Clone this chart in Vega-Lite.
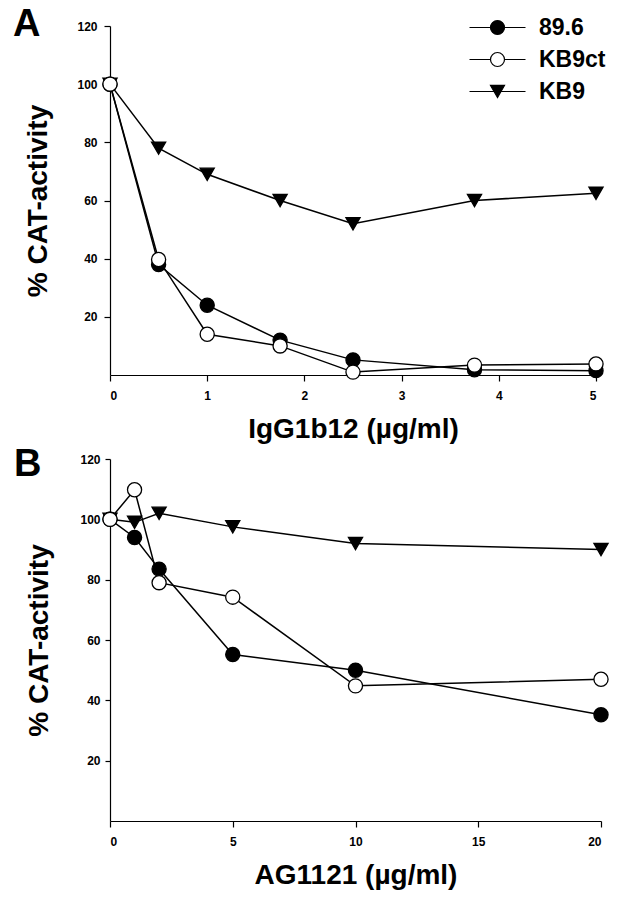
{
  "$schema": "https://vega.github.io/schema/vega-lite/v6.json",
  "background": "white",
  "padding": {"left": 12, "top": 6, "right": 5, "bottom": 5},
  "config": {
    "view": {"stroke": null},
    "font": "Liberation Sans",
    "axis": {
      "grid": false,
      "domainColor": "black",
      "tickColor": "black",
      "labelColor": "black",
      "titleColor": "black",
      "labelFont": "Liberation Sans",
      "labelFontWeight": "bold",
      "labelFontSize": 12,
      "titleFont": "Liberation Sans",
      "titleFontWeight": "bold",
      "titleFontSize": 28,
      "domainWidth": 1.2,
      "tickWidth": 1.2,
      "tickSize": 6
    },
    "title": {"fontSize": 38, "fontWeight": "bold", "anchor": "start", "frame": "bounds", "color": "black", "font": "Liberation Sans"}
  },
  "datasets": {
    "a": [
      {"strain": "89.6", "conc": 0, "cat": 100},
      {"strain": "89.6", "conc": 0.5, "cat": 38},
      {"strain": "89.6", "conc": 1, "cat": 24},
      {"strain": "89.6", "conc": 1.75, "cat": 12},
      {"strain": "89.6", "conc": 2.5, "cat": 5.2},
      {"strain": "89.6", "conc": 3.75, "cat": 1.8},
      {"strain": "89.6", "conc": 5, "cat": 1.5},
      {"strain": "KB9", "conc": 0, "cat": 100},
      {"strain": "KB9", "conc": 0.5, "cat": 78},
      {"strain": "KB9", "conc": 1, "cat": 69},
      {"strain": "KB9", "conc": 1.75, "cat": 60},
      {"strain": "KB9", "conc": 2.5, "cat": 52},
      {"strain": "KB9", "conc": 3.75, "cat": 60},
      {"strain": "KB9", "conc": 5, "cat": 62.5},
      {"strain": "KB9ct", "conc": 0, "cat": 100},
      {"strain": "KB9ct", "conc": 0.5, "cat": 39.7},
      {"strain": "KB9ct", "conc": 1, "cat": 14},
      {"strain": "KB9ct", "conc": 1.75, "cat": 10},
      {"strain": "KB9ct", "conc": 2.5, "cat": 1},
      {"strain": "KB9ct", "conc": 3.75, "cat": 3.4},
      {"strain": "KB9ct", "conc": 5, "cat": 3.8}
    ],
    "b": [
      {"strain": "89.6", "conc": 0, "cat": 100},
      {"strain": "89.6", "conc": 1, "cat": 94},
      {"strain": "89.6", "conc": 2, "cat": 83.5},
      {"strain": "89.6", "conc": 5, "cat": 55.2},
      {"strain": "89.6", "conc": 10, "cat": 50},
      {"strain": "89.6", "conc": 20, "cat": 35.2},
      {"strain": "KB9", "conc": 0, "cat": 100},
      {"strain": "KB9", "conc": 1, "cat": 99},
      {"strain": "KB9", "conc": 2, "cat": 102},
      {"strain": "KB9", "conc": 5, "cat": 97.5},
      {"strain": "KB9", "conc": 10, "cat": 92},
      {"strain": "KB9", "conc": 20, "cat": 90},
      {"strain": "KB9ct", "conc": 0, "cat": 100},
      {"strain": "KB9ct", "conc": 1, "cat": 109.8},
      {"strain": "KB9ct", "conc": 2, "cat": 79},
      {"strain": "KB9ct", "conc": 5, "cat": 74.2},
      {"strain": "KB9ct", "conc": 10, "cat": 44.8},
      {"strain": "KB9ct", "conc": 20, "cat": 47}
    ]
  },
  "spacing": 3,
  "resolve": {
    "scale": {"shape": "independent", "fill": "independent"},
    "legend": {"shape": "independent", "fill": "independent"}
  },
  "vconcat": [
    {
      "width": 486,
      "height": 349,
      "title": {"text": "A", "dx": -12, "offset": -28},
      "data": {"name": "a"},
      "resolve": {"scale": {"shape": "independent", "fill": "independent"}, "legend": {"shape": "independent", "fill": "independent"}},
      "layer": [
        {
          "mark": {"type": "line", "color": "black", "strokeWidth": 1.5},
          "encoding": {
            "x": {"field": "conc", "type": "quantitative", "scale": {"domain": [0, 5], "nice": false},
                  "axis": {"values": [0, 1, 2, 3, 4, 5], "format": "d", "title": "IgG1b12 (µg/ml)", "labelPadding": 9, "titlePadding": 14}},
            "y": {"field": "cat", "type": "quantitative", "scale": {"domain": [0, 120]},
                  "axis": {"values": [20, 40, 60, 80, 100, 120], "title": "% CAT-activity", "titlePadding": 24, "labelPadding": 7}},
            "detail": {"field": "strain"}
          }
        },
        {
          "mark": {"type": "point", "filled": true, "stroke": "black", "strokeWidth": 1.3, "opacity": 1, "size": 200},
          "encoding": {
            "x": {"field": "conc", "type": "quantitative"},
            "y": {"field": "cat", "type": "quantitative"},
            "fill": {"field": "strain", "type": "nominal", "scale": {"domain": ["89.6", "KB9ct", "KB9"], "range": ["black", "white", "black"]}, "legend": null},
            "shape": {"field": "strain", "type": "nominal", "scale": {"domain": ["89.6", "KB9ct", "KB9"], "range": ["circle", "circle", "triangle-down"]}, "legend": null}
          }
        },
        {
          "mark": {"type": "point", "filled": true, "stroke": "black", "strokeWidth": 1.2, "opacity": 0, "size": 196},
          "encoding": {
            "x": {"field": "conc", "type": "quantitative"},
            "y": {"field": "cat", "type": "quantitative"},
            "fill": {"field": "strain", "type": "nominal", "scale": {"domain": ["89.6", "KB9ct", "KB9"], "range": ["black", "white", "black"]},
              "legend": {"title": null, "orient": "none", "legendX": 376, "legendY": -10,
                "labelFontSize": 23, "labelFont": "Liberation Sans", "labelFontWeight": "bold", "labelColor": "black",
                "labelOffset": 30, "rowPadding": 8, "padding": 0, "symbolSize": 196, "symbolOpacity": 1, "symbolStrokeWidth": 1.2}},
            "shape": {"field": "strain", "type": "nominal",
              "scale": {"domain": ["89.6", "KB9ct", "KB9"], "range": [
                "M-4,0L-1,0M1,0L4,0M1,0A1,1,0,1,1,-1,0A1,1,0,1,1,1,0Z",
                "M-4,0L-1,0M1,0L4,0M1,0A1,1,0,1,1,-1,0A1,1,0,1,1,1,0Z",
                "M-4,0L4,0M0,0.866L-1,-0.866L1,-0.866Z"]},
              "legend": {"title": null, "orient": "none", "legendX": 376, "legendY": -10,
                "labelFontSize": 23, "labelFont": "Liberation Sans", "labelFontWeight": "bold", "labelColor": "black",
                "labelOffset": 30, "rowPadding": 8, "padding": 0, "symbolSize": 196, "symbolOpacity": 1, "symbolStrokeWidth": 1.2}}
          }
        }
      ]
    },
    {
      "width": 491,
      "height": 362,
      "title": {"text": "B", "dx": -12, "offset": -31},
      "data": {"name": "b"},
      "layer": [
        {
          "mark": {"type": "line", "color": "black", "strokeWidth": 1.5},
          "encoding": {
            "x": {"field": "conc", "type": "quantitative", "scale": {"domain": [0, 20], "nice": false},
                  "axis": {"values": [0, 5, 10, 15, 20], "format": "d", "title": "AG1121 (µg/ml)", "labelPadding": 9, "titlePadding": 14}},
            "y": {"field": "cat", "type": "quantitative", "scale": {"domain": [0, 120]},
                  "axis": {"values": [20, 40, 60, 80, 100, 120], "title": "% CAT-activity", "titlePadding": 26, "labelPadding": 5, "tickSize": 5}},
            "detail": {"field": "strain"}
          }
        },
        {
          "mark": {"type": "point", "filled": true, "stroke": "black", "strokeWidth": 1.3, "opacity": 1, "size": 200},
          "encoding": {
            "x": {"field": "conc", "type": "quantitative"},
            "y": {"field": "cat", "type": "quantitative"},
            "fill": {"field": "strain", "type": "nominal", "scale": {"domain": ["89.6", "KB9ct", "KB9"], "range": ["black", "white", "black"]}, "legend": null},
            "shape": {"field": "strain", "type": "nominal", "scale": {"domain": ["89.6", "KB9ct", "KB9"], "range": ["circle", "circle", "triangle-down"]}, "legend": null}
          }
        }
      ]
    }
  ]
}
